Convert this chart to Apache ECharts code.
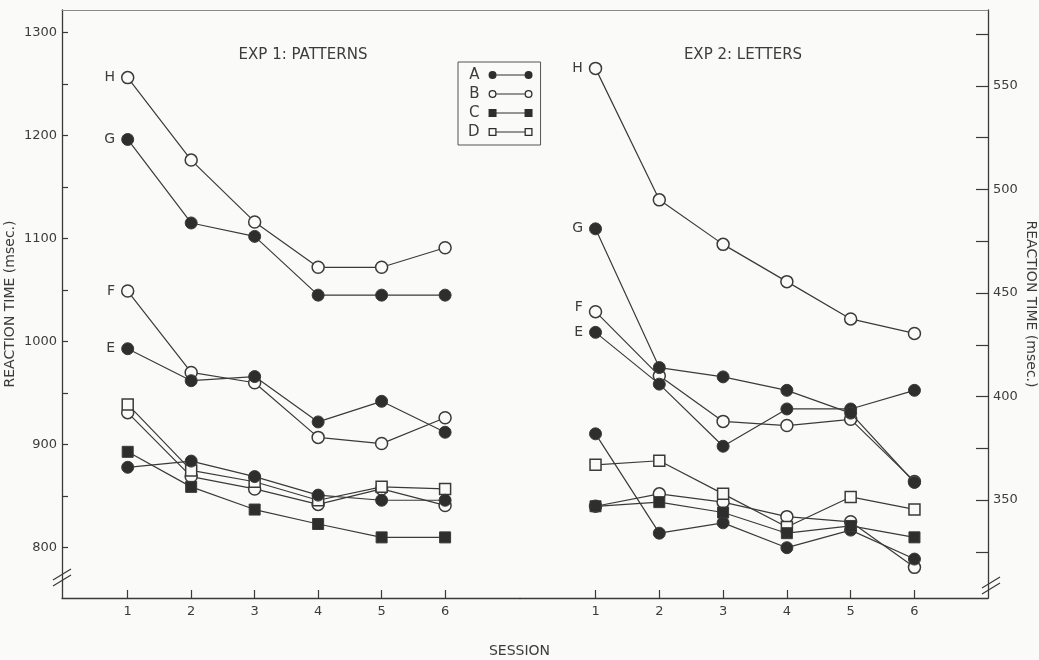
<!DOCTYPE html>
<html>
<head>
<meta charset="utf-8">
<script src="https://cdn.jsdelivr.net/npm/echarts@6/dist/echarts.min.js"></script>
<style>
  html, body { margin: 0; padding: 0; background: #fafaf8; }
  #chart { width: 1039px; height: 660px; }
</style>
</head>
<body>
<div id="chart"></div>
<script>
// sessions shown on both panels
var sessions = [1, 2, 3, 4, 5, 6];

// Exp 1: patterns (left axis, msec)
var exp1A = [878, 884, 869, 851, 846, 846];
var exp1B = [931, 869, 857, 842, 857, 841];
var exp1C = [893, 859, 837, 823, 810, 810];
var exp1D = [939, 875, 864, 846, 859, 857];
var exp1E = [993, 962, 966, 922, 942, 912];
var exp1F = [1049, 970, 960, 907, 901, 926];
var exp1G = [1196, 1115, 1102, 1045, 1045, 1045];
var exp1H = [1256, 1176, 1116, 1072, 1072, 1091];

// Exp 2: letters (right axis, msec)
var exp2A = [382, 334, 339, 327, 335.5, 321.5];
var exp2B = [347, 353, 349, 342, 339.5, 317.5];
var exp2C = [347, 349, 344, 334, 337.5, 332];
var exp2D = [367, 369, 353, 337, 351.5, 345.5];
var exp2E = [431, 406, 376, 394, 394, 403];
var exp2F = [441, 410, 388, 386, 389, 359];
var exp2G = [481, 414, 409.5, 403, 392, 358.5];
var exp2H = [558.5, 495, 473.5, 455.5, 437.5, 430.5];

var leftTicks = [800, 900, 1000, 1100, 1200, 1300];
var leftMinor = [800, 850, 900, 950, 1000, 1050, 1100, 1150, 1200, 1250, 1300];
var rightTicks = [350, 400, 450, 500, 550];
var rightMinor = [325, 350, 375, 400, 425, 450, 475, 500, 525, 550, 575];

var legendNames = ['A', 'B', 'C', 'D'];

var INK = '#3a3a3a';
var TXT = '#3c3c3c';
var BG = '#fafaf8';
var FONT = "'DejaVu Sans', sans-serif";

// marker style per condition
var markStyle = {
  A: { symbol: 'circle', open: false },
  B: { symbol: 'circle', open: true },
  C: { symbol: 'rect', open: false },
  D: { symbol: 'rect', open: true },
  E: { symbol: 'circle', open: false },
  F: { symbol: 'circle', open: true },
  G: { symbol: 'circle', open: false },
  H: { symbol: 'circle', open: true }
};

// legend icons: marker - line - marker
var dotL = 'M0,4A4,4 0 1,1 8,4A4,4 0 1,1 0,4Z';
var dotR = 'M36,4A4,4 0 1,1 44,4A4,4 0 1,1 36,4Z';
var holeL = 'M1.3,4A2.7,2.7 0 1,0 6.7,4A2.7,2.7 0 1,0 1.3,4Z';
var holeR = 'M37.3,4A2.7,2.7 0 1,0 42.7,4A2.7,2.7 0 1,0 37.3,4Z';
var sqL = 'M0,0L8,0L8,8L0,8Z';
var sqR = 'M36,0L44,0L44,8L36,8Z';
var sqHoleL = 'M1.3,1.3L1.3,6.7L6.7,6.7L6.7,1.3Z';
var sqHoleR = 'M37.3,1.3L37.3,6.7L42.7,6.7L42.7,1.3Z';
var bar = 'M8,3.5L36,3.5L36,4.5L8,4.5Z';
var legendIcons = {
  A: 'path://' + dotL + bar + dotR,
  B: 'path://' + dotL + holeL + bar + dotR + holeR,
  C: 'path://' + sqL + bar + sqR,
  D: 'path://' + sqL + sqHoleL + bar + sqR + sqHoleR
};

function makeSeries(name, values, panel, labelOffset) {
  var st = markStyle[name];
  var data = sessions.map(function (s, i) { return [s, values[i]]; });
  if (labelOffset) {
    data[0] = {
      value: data[0],
      label: {
        show: true, position: 'left', distance: 6, offset: labelOffset,
        formatter: name, color: TXT, fontSize: 14, fontFamily: FONT
      }
    };
  }
  return {
    name: name,
    type: 'line',
    xAxisIndex: panel,
    yAxisIndex: panel,
    data: data,
    symbol: st.symbol,
    symbolSize: st.symbol === 'rect' ? 11 : 12,
    showAllSymbol: true,
    lineStyle: { color: INK, width: 1.2 },
    itemStyle: st.open
      ? { color: BG, borderColor: INK, borderWidth: 1.5 }
      : { color: '#2e2e2e', borderColor: INK, borderWidth: 1 },
    emphasis: { disabled: true },
    z: st.open ? 3 : 4
  };
}

function valueAxis(index, min, max, ticks, minor, pos) {
  return {
    type: 'value',
    gridIndex: index,
    position: pos,
    min: min,
    max: max,
    splitLine: { show: false },
    axisLine: { show: true, onZero: false, lineStyle: { color: INK, width: 1.3 } },
    axisTick: { show: true, inside: true, length: pos === 'left' ? 6 : 12, customValues: minor, lineStyle: { color: INK, width: 1.2 } },
    axisLabel: { customValues: ticks, formatter: function (v) { return String(v); },
      color: TXT, fontSize: 13, fontFamily: FONT, margin: 5 },
    name: 'REACTION TIME (msec.)',
    nameLocation: 'middle',
    nameGap: pos === 'left' ? 45 : 36,
    nameRotate: pos === 'left' ? 90 : -90,
    nameTextStyle: { color: TXT, fontSize: 14, fontFamily: FONT }
  };
}

function sessionAxis(index, min, max) {
  return {
    type: 'value',
    gridIndex: index,
    position: 'bottom',
    min: min,
    max: max,
    splitLine: { show: false },
    axisLine: { show: true, onZero: false, lineStyle: { color: INK, width: 1.3 } },
    axisTick: { show: true, inside: true, length: 8, customValues: sessions, lineStyle: { color: INK, width: 1.2 } },
    axisLabel: { customValues: sessions, color: TXT, fontSize: 13, fontFamily: FONT, margin: 7 }
  };
}

function frameTop(index) {
  return {
    type: 'value', gridIndex: index, position: 'top', min: 0, max: 1,
    axisLine: { show: true, onZero: false, lineStyle: { color: '#8a8a8a', width: 1 } },
    axisTick: { show: false }, axisLabel: { show: false }, splitLine: { show: false }
  };
}

var series = [
  makeSeries('A', exp1A, 0), makeSeries('B', exp1B, 0),
  makeSeries('C', exp1C, 0), makeSeries('D', exp1D, 0),
  makeSeries('E', exp1E, 0, [0, 0]), makeSeries('F', exp1F, 0, [0, 0]),
  makeSeries('G', exp1G, 0, [0, 0]), makeSeries('H', exp1H, 0, [0, 0]),
  makeSeries('A', exp2A, 1), makeSeries('B', exp2B, 1),
  makeSeries('C', exp2C, 1), makeSeries('D', exp2D, 1),
  makeSeries('E', exp2E, 1, [0, 0]), makeSeries('F', exp2F, 1, [0, -4]),
  makeSeries('G', exp2G, 1, [0, 0]), makeSeries('H', exp2H, 1, [0, 0])
];

var chart = echarts.init(document.getElementById('chart'), null, { renderer: 'canvas' });

chart.setOption({
  backgroundColor: BG,
  animation: false,
  textStyle: { fontFamily: FONT },
  title: [
    { text: 'EXP 1: PATTERNS', left: 298, top: 43, textAlign: 'center',
      textStyle: { color: TXT, fontSize: 15, fontWeight: 'normal', fontFamily: FONT } },
    { text: 'EXP 2: LETTERS', left: 738, top: 43, textAlign: 'center',
      textStyle: { color: TXT, fontSize: 15, fontWeight: 'normal', fontFamily: FONT } },
    { text: 'SESSION', left: 'center', top: 639,
      textStyle: { color: TXT, fontSize: 14, fontWeight: 'normal', fontFamily: FONT } }
  ],
  legend: {
    data: legendNames.map(function (n) {
      return { name: n, icon: legendIcons[n], itemStyle: { color: '#2e2e2e', borderWidth: 0 } };
    }),
    orient: 'vertical',
    left: 458,
    top: 62,
    align: 'right',
    itemWidth: 44,
    itemHeight: 8,
    itemGap: 3,
    padding: [5, 8, 5, 10],
    borderColor: '#555',
    borderWidth: 1,
    selectedMode: false,
    textStyle: { color: TXT, fontSize: 15, lineHeight: 16, fontFamily: FONT, padding: [0, 4, 0, 0] }
  },
  grid: [
    { left: 62, right: 519, top: 10, bottom: 62 },
    { left: 520, right: 48, top: 10, bottom: 62 }
  ],
  xAxis: [
    sessionAxis(0, -0.035, 7.18),
    sessionAxis(1, -0.184, 7.153),
    frameTop(0),
    frameTop(1)
  ],
  yAxis: [
    valueAxis(0, 751.2, 1321.6, leftTicks, leftMinor, 'left'),
    valueAxis(1, 302.7, 586.7, rightTicks, rightMinor, 'right')
  ],
  series: series,
  graphic: [
    // axis break marks
    { type: 'line', shape: { x1: 53, y1: 580, x2: 71, y2: 569 }, style: { stroke: INK, lineWidth: 1.2 } },
    { type: 'line', shape: { x1: 53, y1: 586, x2: 71, y2: 575 }, style: { stroke: INK, lineWidth: 1.2 } },
    { type: 'line', shape: { x1: 982, y1: 588, x2: 1000, y2: 577 }, style: { stroke: INK, lineWidth: 1.2 } },
    { type: 'line', shape: { x1: 982, y1: 594, x2: 1000, y2: 583 }, style: { stroke: INK, lineWidth: 1.2 } }
  ]
});
</script>
</body>
</html>
